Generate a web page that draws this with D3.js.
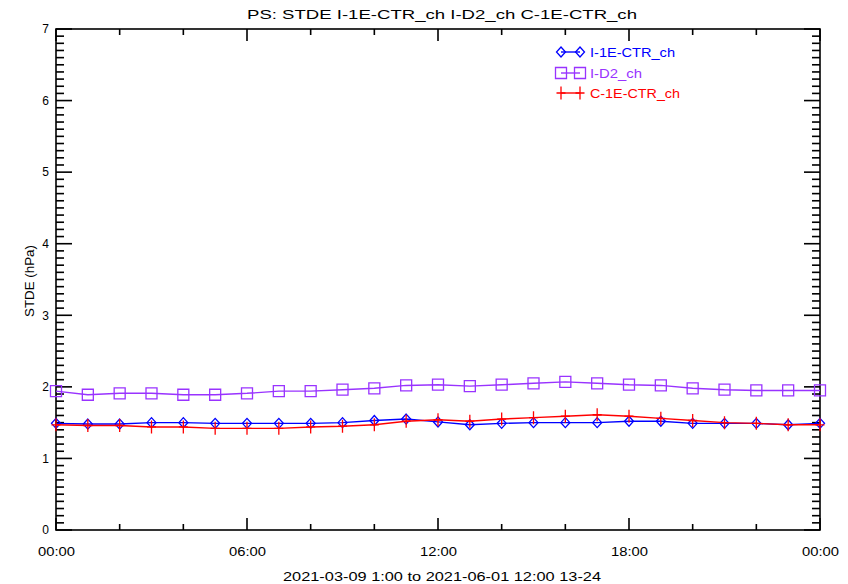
<!DOCTYPE html>
<html>
<head>
<meta charset="utf-8">
<script src="https://cdn.jsdelivr.net/npm/d3@7"></script>
<style>
  html, body { margin: 0; padding: 0; background: #fff; }
  svg { display: block; }
  text { font-family: "Liberation Sans", Arial, sans-serif; font-size: 13px; }
</style>
</head>
<body>
<div id="chart"></div>
<script>
// Hourly STDE of surface pressure (hPa), hours 0..24
const hours = d3.range(0, 25);
const seriesNames = ["I-1E-CTR_ch", "I-D2_ch", "C-1E-CTR_ch"];
const seriesColors = ["#0000ff", "#9933ff", "#ff0000"];
const seriesSymbols = ["diamond", "square", "plus"];

const i1eCtr = [1.49, 1.48, 1.48, 1.50, 1.50, 1.49, 1.49, 1.49, 1.49, 1.50, 1.53, 1.55, 1.51,
                1.47, 1.49, 1.50, 1.50, 1.50, 1.52, 1.52, 1.49, 1.49, 1.49, 1.47, 1.49];
const iD2 = [1.94, 1.89, 1.91, 1.91, 1.89, 1.89, 1.91, 1.94, 1.94, 1.96, 1.98, 2.02, 2.03,
             2.01, 2.03, 2.05, 2.07, 2.05, 2.03, 2.02, 1.98, 1.96, 1.95, 1.95, 1.95];
const c1eCtr = [1.47, 1.46, 1.46, 1.44, 1.44, 1.42, 1.42, 1.42, 1.44, 1.45, 1.47, 1.52, 1.54,
                1.52, 1.55, 1.57, 1.59, 1.61, 1.59, 1.56, 1.53, 1.50, 1.49, 1.47, 1.47];
const seriesValues = [i1eCtr, iD2, c1eCtr];

const xMajorTicks = [0, 6, 12, 18, 24];
const xMinorTicks = [2, 4, 8, 10, 14, 16, 20, 22];
const yMajorTicks = [0, 1, 2, 3, 4, 5, 6, 7];
const yMinorTicks = d3.range(0, 71).filter(k => k % 10 !== 0).map(k => k / 10);

const titleText = "PS: STDE I-1E-CTR_ch I-D2_ch C-1E-CTR_ch";
const yTitleText = "STDE (hPa)";
const footerText = "2021-03-09  1:00 to 2021-06-01 12:00 13-24";

const W = 848, H = 584;
const m = { left: 56, right: 28, top: 29, bottom: 54 };
const pw = W - m.left - m.right, ph = H - m.top - m.bottom;

const svg = d3.select("#chart").append("svg").attr("width", W).attr("height", H);

const x = d3.scaleLinear().domain([0, 24]).range([m.left, m.left + pw]);
const y = d3.scaleLinear().domain([0, 7]).range([m.top + ph, m.top]);

const fmtHour = h => String(h % 24).padStart(2, "0") + ":00";

// Tick labels come from d3 axes
const xAxisBottom = svg.append("g").attr("transform", `translate(0,${m.top + ph})`)
  .call(d3.axisBottom(x).tickValues(xMajorTicks).tickSize(0).tickPadding(17).tickFormat(fmtHour));
const yAxisLeft = svg.append("g").attr("transform", `translate(${m.left},0)`)
  .call(d3.axisLeft(y).tickValues(yMajorTicks).tickSize(0).tickPadding(7).tickFormat(d3.format("d")));
svg.selectAll(".domain").remove();
svg.selectAll(".tick text").attr("fill", "#000")
  .style("font-family", "'Liberation Sans', Arial, sans-serif").style("font-size", "12px");
xAxisBottom.selectAll(".tick text").attr("textLength", 37).attr("lengthAdjust", "spacingAndGlyphs");

// Plot frame
const x0 = x(0), x1 = x(24), y0 = y(0), y1 = y(7);
svg.append("rect").attr("x", x0).attr("y", y1).attr("width", x1 - x0).attr("height", y0 - y1)
  .attr("fill", "none").attr("stroke", "#000").attr("stroke-width", 1.6);

// Inward ticks on all four sides, drawn as thin filled bars
const xMajLen = 12, xMinLen = 6, yMajLen = 16, yMinLen = 8, tw = 1.6;
const xTicks = xMajorTicks.map(v => ({ v, len: xMajLen })).concat(xMinorTicks.map(v => ({ v, len: xMinLen })));
const yTicks = yMajorTicks.map(v => ({ v, len: yMajLen })).concat(yMinorTicks.map(v => ({ v, len: yMinLen })));
const ticks = svg.append("g").attr("fill", "#000");
ticks.selectAll("rect.xb").data(xTicks).join("rect").attr("class", "xb")
  .attr("x", d => x(d.v) - tw / 2).attr("y", d => y0 - d.len).attr("width", tw).attr("height", d => d.len);
ticks.selectAll("rect.xt").data(xTicks).join("rect").attr("class", "xt")
  .attr("x", d => x(d.v) - tw / 2).attr("y", y1).attr("width", tw).attr("height", d => d.len);
ticks.selectAll("rect.yl").data(yTicks).join("rect").attr("class", "yl")
  .attr("x", x0).attr("y", d => y(d.v) - tw / 2).attr("width", d => d.len).attr("height", tw);
ticks.selectAll("rect.yr").data(yTicks).join("rect").attr("class", "yr")
  .attr("x", d => x1 - d.len).attr("y", d => y(d.v) - tw / 2).attr("width", d => d.len).attr("height", tw);

// Marker paths
function symbolPath(kind) {
  if (kind === "diamond") return "M0,-5L4.5,0L0,5L-4.5,0Z";
  if (kind === "square") return "M-5.5,-5.5H5.5V5.5H-5.5Z";
  return "M0,-6.5V6.5M-4.5,0H4.5";
}

const seriesLine = d3.line().x((d, i) => x(hours[i])).y(d => y(d));
const plot = svg.append("g");
seriesValues.forEach((vals, s) => {
  const g = plot.append("g");
  g.append("path").datum(vals).attr("d", seriesLine)
    .attr("fill", "none").attr("stroke", seriesColors[s]).attr("stroke-width", 1.4);
  g.selectAll("path.mk").data(vals).join("path").attr("class", "mk")
    .attr("transform", (d, i) => `translate(${x(hours[i])},${y(d)})`)
    .attr("d", symbolPath(seriesSymbols[s]))
    .attr("fill", "none").attr("stroke", seriesColors[s]).attr("stroke-width", 1.3);
});

// Legend
const legendX0 = 561, legendX1 = 580, legendY = [52, 73, 93];
seriesNames.forEach((name, s) => {
  const g = svg.append("g").attr("transform", `translate(0,${legendY[s]})`);
  g.append("line").attr("x1", legendX0).attr("x2", legendX1).attr("y1", 0).attr("y2", 0)
    .attr("stroke", seriesColors[s]).attr("stroke-width", 1.4);
  [legendX0, legendX1].forEach(px => g.append("path").attr("transform", `translate(${px},0)`)
    .attr("d", symbolPath(seriesSymbols[s])).attr("fill", "none")
    .attr("stroke", seriesColors[s]).attr("stroke-width", 1.3));
  g.append("text").attr("x", 590).attr("y", 0).attr("dy", "0.36em")
    .attr("fill", seriesColors[s]).text(name)
    .attr("textLength", s === 2 ? 90 : (s === 0 ? 85 : 52)).attr("lengthAdjust", "spacingAndGlyphs");
});

// Titles
svg.append("text").attr("x", 442).attr("y", 14).attr("dy", "0.36em").attr("text-anchor", "middle")
  .attr("fill", "#000").attr("textLength", 390).attr("lengthAdjust", "spacingAndGlyphs").text(titleText);
svg.append("text").attr("transform", "translate(30,281) rotate(-90)").attr("dy", "0.36em")
  .attr("text-anchor", "middle").attr("fill", "#000").style("font-size", "12px")
  .attr("textLength", 72).attr("lengthAdjust", "spacingAndGlyphs").text(yTitleText);
svg.append("text").attr("x", 442).attr("y", 576).attr("dy", "0.36em").attr("text-anchor", "middle")
  .attr("fill", "#000").attr("textLength", 318).attr("lengthAdjust", "spacingAndGlyphs").text(footerText);
</script>
</body>
</html>
